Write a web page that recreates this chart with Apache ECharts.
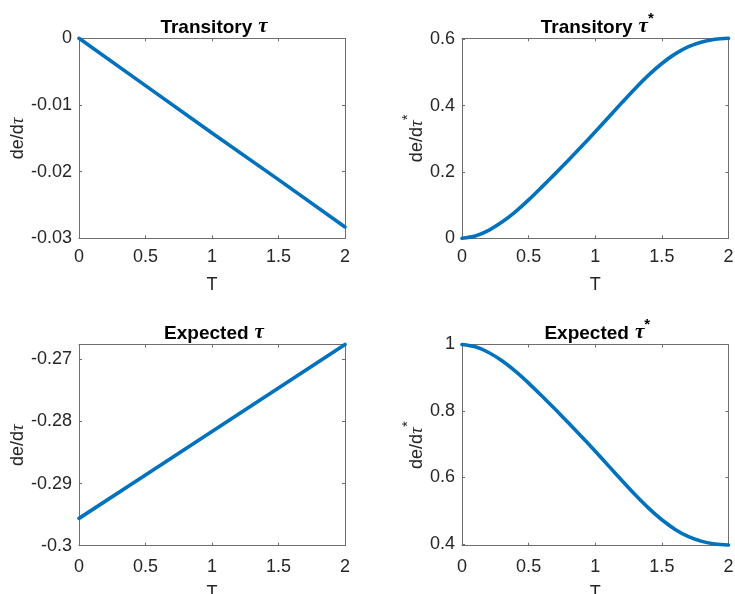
<!DOCTYPE html>
<html>
<head>
<meta charset="utf-8">
<script src="https://cdn.jsdelivr.net/npm/echarts@6/dist/echarts.min.js"></script>
<style>
html,body{margin:0;padding:0;background:#fff;}
#chart{width:735px;height:594px;}
</style>
</head>
<body>
<div id="chart"></div>
<script>
// ---- data ----
const T_LINE = [0, 0.5, 1, 1.5, 2];
const T_CURVE = [0, 0.1, 0.2, 0.3, 0.4, 0.5, 0.6, 0.7, 0.8, 0.9, 1.0, 1.1, 1.2, 1.3, 1.4, 1.5, 1.6, 1.7, 1.8, 1.9, 2.0];
const transitoryTau = [0, -0.0071, -0.0142, -0.0212, -0.0283];
const transitoryTauStar = [0, 0.007, 0.024, 0.049, 0.080, 0.116, 0.155, 0.195, 0.236, 0.278, 0.321, 0.365, 0.409, 0.452, 0.492, 0.527, 0.556, 0.578, 0.592, 0.600, 0.603];
const expectedTau = [-0.2956, -0.2886, -0.2816, -0.2746, -0.2676];
const expectedTauStar = [1.0, 0.993, 0.976, 0.951, 0.920, 0.884, 0.845, 0.805, 0.764, 0.722, 0.679, 0.635, 0.591, 0.548, 0.508, 0.473, 0.444, 0.422, 0.408, 0.400, 0.397];
const xTicks = [0, 0.5, 1, 1.5, 2];
const yTicksTL = [-0.03, -0.02, -0.01, 0];
const yTicksTR = [0, 0.2, 0.4, 0.6];
const yTicksBL = [-0.3, -0.29, -0.28, -0.27];
const yTicksBR = [0.4, 0.6, 0.8, 1];

// ---- layout ----
const FONT = 'Liberation Sans, Arial, Helvetica, sans-serif';
const TXT = '#262626';
const AX = '#6e6e6e';
const BLUE = '#0072BD';
const grids = [
  {left: 79, top: 38.3, width: 266, height: 200},
  {left: 462, top: 38.3, width: 266.5, height: 200},
  {left: 79, top: 344.5, width: 266, height: 201.2},
  {left: 462, top: 344.5, width: 266.5, height: 201.2}
];
const panels = [
  {xs: T_LINE, ys: transitoryTau, yt: yTicksTL, ymin: -0.03, ymax: 0, star: false, title: 'Transitory', yGap: 46, xGap: 38, xMargin: 9.5, smooth: false},
  {xs: T_CURVE, ys: transitoryTauStar, yt: yTicksTR, ymin: 0, ymax: 0.603, star: true, title: 'Transitory', yGap: 35, xGap: 38, xMargin: 9.5, smooth: true},
  {xs: T_LINE, ys: expectedTau, yt: yTicksBL, ymin: -0.3, ymax: -0.2676, star: false, title: 'Expected', yGap: 46, xGap: 38, xMargin: 12, smooth: false},
  {xs: T_CURVE, ys: expectedTauStar, yt: yTicksBR, ymin: 0.395, ymax: 1, star: true, title: 'Expected', yGap: 35, xGap: 38, xMargin: 12, smooth: true}
];

const richBase = {
  n: {fontFamily: FONT, fontSize: 18, color: TXT, verticalAlign: 'bottom', lineHeight: 20},
  b: {fontFamily: FONT, fontSize: 19, fontWeight: 'bold', color: '#000', verticalAlign: 'bottom', lineHeight: 22},
  t: {fontFamily: 'Liberation Serif, DejaVu Serif, serif', fontStyle: 'italic', fontSize: 21, color: '#000', verticalAlign: 'bottom', lineHeight: 22, padding: [0, 0, 0, 6]},
  ty: {fontFamily: 'Liberation Serif, DejaVu Serif, serif', fontStyle: 'italic', fontSize: 19, color: TXT, verticalAlign: 'bottom', lineHeight: 20},
  s: {fontFamily: FONT, fontSize: 15, fontWeight: 'bold', color: '#000', verticalAlign: 'bottom', lineHeight: 14, padding: [0, 0, 11, 0]},
  sy: {fontFamily: FONT, fontSize: 15, color: TXT, verticalAlign: 'bottom', lineHeight: 14, padding: [0, 0, 11, 0]}
};

const option = {
  backgroundColor: '#fff',
  animation: false,
  title: [], grid: [], xAxis: [], yAxis: [], series: []
};

panels.forEach((p, i) => {
  const g = grids[i];
  option.grid.push({left: g.left, top: g.top, width: g.width, height: g.height, containLabel: false, outerBoundsMode: 'none'});
  option.title.push({
    text: '{b|' + p.title + '}{t|τ}' + (p.star ? '{s|*}' : ''),
    left: g.left + g.width / 2 - 3,
    top: g.top - 28,
    textAlign: 'center',
    textStyle: {rich: richBase}
  });
  const tickCommon = {show: true, inside: true, length: 3, lineStyle: {color: AX, width: 1}};
  option.xAxis.push({
    type: 'value', gridIndex: i, min: 0, max: 2, interval: 0.5, position: 'bottom',
    name: 'T', nameLocation: 'middle', nameGap: p.xGap,
    nameTextStyle: {fontFamily: FONT, fontSize: 18, color: TXT},
    axisLine: {show: true, onZero: false, lineStyle: {color: AX, width: 1}},
    axisTick: Object.assign({customValues: xTicks}, tickCommon),
    axisLabel: {customValues: xTicks, fontFamily: FONT, fontSize: 18, color: TXT, margin: p.xMargin, showMinLabel: true, showMaxLabel: true},
    splitLine: {show: false}
  });
  option.xAxis.push({
    type: 'value', gridIndex: i, min: 0, max: 2, interval: 0.5, position: 'top',
    axisLine: {show: true, onZero: false, lineStyle: {color: AX, width: 1}},
    axisTick: Object.assign({customValues: xTicks}, tickCommon),
    axisLabel: {show: false}, splitLine: {show: false}
  });
  option.yAxis.push({
    type: 'value', gridIndex: i, min: p.ymin, max: p.ymax, position: 'left',
    name: '{n|de/d}{ty|τ}' + (p.star ? '{sy|*}' : ''),
    nameLocation: 'middle', nameRotate: 90, nameGap: p.yGap,
    nameTextStyle: {rich: richBase},
    axisLine: {show: true, onZero: false, lineStyle: {color: AX, width: 1}},
    axisTick: Object.assign({customValues: p.yt}, tickCommon),
    axisLabel: {customValues: p.yt, fontFamily: FONT, fontSize: 18, color: TXT, margin: 7},
    splitLine: {show: false}
  });
  option.yAxis.push({
    type: 'value', gridIndex: i, min: p.ymin, max: p.ymax, position: 'right',
    axisLine: {show: true, onZero: false, lineStyle: {color: AX, width: 1}},
    axisTick: Object.assign({customValues: p.yt}, tickCommon),
    axisLabel: {show: false}, splitLine: {show: false}
  });
  option.series.push({
    type: 'line', xAxisIndex: 2 * i, yAxisIndex: 2 * i,
    data: p.xs.map((x, k) => [x, p.ys[k]]),
    smooth: p.smooth ? 0.3 : false,
    showSymbol: false, symbol: 'none', clip: false,
    lineStyle: {color: BLUE, width: 3.6, cap: 'round', join: 'round'}
  });
});

const chart = echarts.init(document.getElementById('chart'), null, {renderer: 'canvas'});
chart.setOption(option);
</script>
</body>
</html>
